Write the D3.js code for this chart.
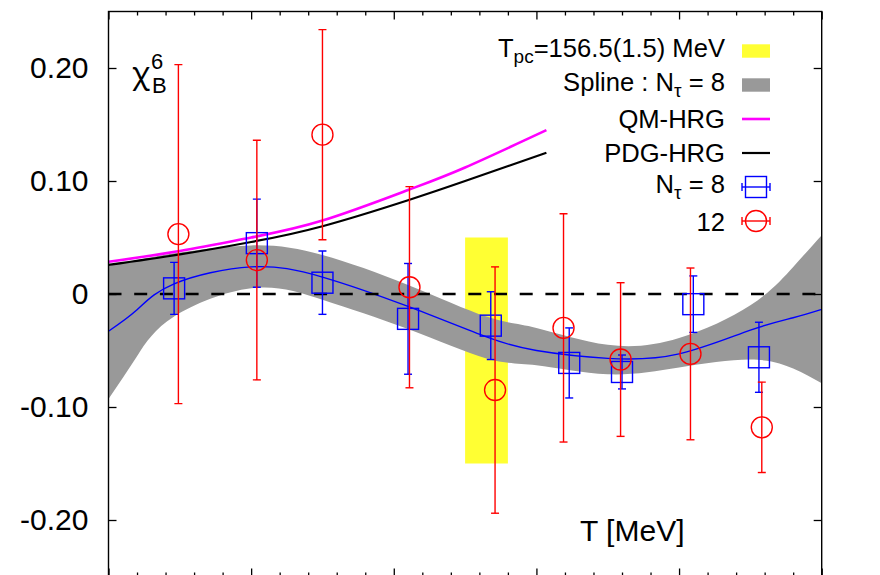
<!DOCTYPE html>
<html>
<head>
<meta charset="utf-8">
<script src="https://cdn.jsdelivr.net/npm/d3@7"></script>
<style>
  body { margin: 0; background: #fff; }
  svg text { font-family: "Liberation Sans", Arial, Helvetica, sans-serif; fill: #000; }
</style>
</head>
<body>
<svg id="chart" width="880" height="575"></svg>
<script>
// ---- data ----
const tpc = 156.5, tpcErr = 1.5;
const tpcBandRange = [-0.15, 0.05];

// N_tau = 8 lattice points
const tau8T   = [134.6, 140.4, 145.0, 151.0, 156.8, 162.3, 166.0, 171.0, 175.6];
const tau8Val = [0.005, 0.045, 0.010, -0.022, -0.028, -0.061, -0.069, -0.009, -0.056];
const tau8Err = [0.023, 0.039, 0.028, 0.049, 0.030, 0.031, 0.015, 0.025, 0.031];

// N_tau = 12 lattice points
const tau12T   = [134.9, 140.4, 145.0, 151.1, 157.1, 161.9, 165.9, 170.8, 175.8];
const tau12Val = [0.053, 0.030, 0.141, 0.006, -0.085, -0.030, -0.058, -0.053, -0.118];
const tau12Err = [0.150, 0.106, 0.093, 0.089, 0.109, 0.101, 0.068, 0.076, 0.040];

// hadron resonance gas curves
const hrgT   = [130, 135, 140, 145, 151, 155, 160.7];
const qmHrg  = [0.0286, 0.038, 0.050, 0.065, 0.092, 0.112, 0.145];
const pdgHrg = [0.0257, 0.035, 0.046, 0.060, 0.083, 0.100, 0.125];

// spline fit to N_tau = 8 with its error band
const splineT   = [130, 132, 134.6, 140, 145, 151, 156.5, 160, 165, 170, 175, 178, 180];
const splineMid = [-0.033, -0.014, 0.009, 0.024, 0.015, -0.011, -0.038, -0.050, -0.057, -0.053, -0.032, -0.021, -0.0136];
const splineLo  = [-0.093, -0.055, -0.020, 0.005, -0.005, -0.031, -0.057, -0.063, -0.071, -0.065, -0.058, -0.066, -0.079];
const splineHi  = [0.025, 0.030, 0.036, 0.043, 0.0345, 0.008, -0.020, -0.030, -0.045, -0.039, -0.010, 0.024, 0.052];

// axes
const xDomain = [130, 180];
const yDomain = [-0.25, 0.25];
const yTicks = [-0.2, -0.1, 0, 0.1, 0.2];
const yTickLabels = ["-0.20", "-0.10", "0", "0.10", "0.20"];
const xMajorTicks = [130, 140, 150, 160, 170, 180];
const xMinorTicks = d3.range(130, 180.01, 2).filter(t => t % 10 !== 0);

// ---- drawing ----
const svg = d3.select("#chart");
const L = 108.5, R = 821.7, T = 11.5, B = 576.5;
const x = d3.scaleLinear().domain(xDomain).range([L, R]);
const y = d3.scaleLinear().domain(yDomain).range([B, T]);

const BLUE = "#0000ff", RED = "#ff0000", GREY = "#999999", YELLOW = "#ffff33", MAGENTA = "#ff00ff";

svg.append("defs").append("clipPath").attr("id", "plotClip")
  .append("rect").attr("x", L).attr("y", T).attr("width", R - L).attr("height", B - T);

const plot = svg.append("g").attr("clip-path", "url(#plotClip)");

// T_pc band
plot.append("rect")
  .attr("x", x(tpc - tpcErr)).attr("width", x(tpc + tpcErr) - x(tpc - tpcErr))
  .attr("y", y(tpcBandRange[1])).attr("height", y(tpcBandRange[0]) - y(tpcBandRange[1]))
  .attr("fill", YELLOW);

// spline band
const splineRows = splineT.map((t, i) => ({ t, lo: splineLo[i], hi: splineHi[i], mid: splineMid[i] }));
plot.append("path").datum(splineRows)
  .attr("d", d3.area().curve(d3.curveNatural)
    .x(d => x(d.t)).y0(d => y(d.lo)).y1(d => y(d.hi)))
  .attr("fill", GREY);

// spline central line
plot.append("path").datum(splineRows)
  .attr("d", d3.line().curve(d3.curveNatural).x(d => x(d.t)).y(d => y(d.mid)))
  .attr("fill", "none").attr("stroke", BLUE).attr("stroke-width", 1.4);

// zero line
plot.append("line")
  .attr("x1", L).attr("x2", R).attr("y1", y(0)).attr("y2", y(0))
  .attr("stroke", "#000").attr("stroke-width", 2.6).attr("stroke-dasharray", "13,12.7");

// HRG curves
const hrgLine = vals => d3.line().curve(d3.curveNatural)
  .x((d, i) => x(hrgT[i])).y(d => y(d))(vals);
plot.append("path").attr("d", hrgLine(qmHrg))
  .attr("fill", "none").attr("stroke", MAGENTA).attr("stroke-width", 2.6);
plot.append("path").attr("d", hrgLine(pdgHrg))
  .attr("fill", "none").attr("stroke", "#000").attr("stroke-width", 2.2);

// error-bar points
function drawPoints(ts, vals, errs, color, shape) {
  const g = plot.append("g").attr("stroke", color).attr("fill", "none").attr("stroke-width", 1.4);
  ts.forEach((t, i) => {
    const cx = x(t), cy = y(vals[i]);
    const top = y(vals[i] + errs[i]), bot = y(vals[i] - errs[i]);
    g.append("line").attr("x1", cx).attr("x2", cx).attr("y1", top).attr("y2", bot);
    g.append("line").attr("x1", cx - 4).attr("x2", cx + 4).attr("y1", top).attr("y2", top);
    g.append("line").attr("x1", cx - 4).attr("x2", cx + 4).attr("y1", bot).attr("y2", bot);
    if (shape === "square") {
      g.append("rect").attr("x", cx - 10.5).attr("y", cy - 10.5).attr("width", 21).attr("height", 21);
    } else {
      g.append("circle").attr("cx", cx).attr("cy", cy).attr("r", 10.5);
    }
  });
}
drawPoints(tau8T, tau8Val, tau8Err, BLUE, "square");
drawPoints(tau12T, tau12Val, tau12Err, RED, "circle");

// frame and ticks
const axisStyle = g => {
  g.select(".domain").remove();
  g.selectAll(".tick line").attr("stroke", "#000").attr("stroke-width", 1.3);
};
svg.append("g").attr("transform", `translate(${L},0)`)
  .call(d3.axisLeft(y).tickValues(yTicks).tickSize(-8).tickPadding(20)
    .tickFormat((d, i) => yTickLabels[i]))
  .call(axisStyle)
  .call(g => g.selectAll(".tick text").attr("font-size", 30).attr("font-family", null).attr("fill", "#000"));
svg.append("g").attr("transform", `translate(${R},0)`)
  .call(d3.axisRight(y).tickValues(yTicks).tickSize(-8).tickFormat(""))
  .call(axisStyle);
[[T, d3.axisTop], [B, d3.axisBottom]].forEach(([pos, axisFn]) => {
  svg.append("g").attr("transform", `translate(0,${pos})`)
    .call(axisFn(x).tickValues(xMajorTicks).tickSize(-8).tickFormat(""))
    .call(axisStyle);
  svg.append("g").attr("transform", `translate(0,${pos})`)
    .call(axisFn(x).tickValues(xMinorTicks).tickSize(-4).tickFormat(""))
    .call(axisStyle);
});
svg.append("rect").attr("x", L).attr("y", T).attr("width", R - L).attr("height", B - T)
  .attr("fill", "none").attr("stroke", "#000").attr("stroke-width", 1.4);

// axis titles
const ylab = svg.append("g");
ylab.append("text").attr("x", 132).attr("y", 84).attr("font-size", 30)
  .style("font-family", "'Noto Sans', 'DejaVu Sans', sans-serif").text("χ");
ylab.append("text").attr("x", 152).attr("y", 93).attr("font-size", 22).text("B");
ylab.append("text").attr("x", 151).attr("y", 69).attr("font-size", 22).text("6");

svg.append("text").attr("x", 580).attr("y", 540.5).attr("font-size", 30).text("T [MeV]");

// legend
const legendTextX = 725, sx0 = 742, sx1 = 770, scx = (sx0 + sx1) / 2;
const legendRowY = [51, 85, 119, 153, 187, 221];
const legendBaseY = [56.7, 90.7, 128, 162, 193.3, 230.5];
const leg = svg.append("g").attr("font-size", 25.6);

function legendText(i, parts) {
  const t = leg.append("text").attr("x", legendTextX).attr("y", legendBaseY[i]).attr("text-anchor", "end");
  let shift = 0;
  parts.forEach(p => {
    const ts = t.append("tspan").text(p.s);
    if (p.sub) { ts.attr("dy", 6 - shift).attr("font-size", 19); shift = 6; }
    else if (shift) { ts.attr("dy", -shift); shift = 0; }
  });
}
legendText(0, [{ s: "T" }, { s: "pc", sub: true }, { s: "=156.5(1.5) MeV" }]);
legendText(1, [{ s: "Spline : N" }, { s: "τ", sub: true }, { s: " = 8" }]);
legendText(2, [{ s: "QM-HRG" }]);
legendText(3, [{ s: "PDG-HRG" }]);
legendText(4, [{ s: "N" }, { s: "τ", sub: true }, { s: " = 8" }]);
legendText(5, [{ s: "12" }]);

leg.append("rect").attr("x", sx0).attr("y", legendRowY[0] - 6.7).attr("width", sx1 - sx0).attr("height", 13.4).attr("fill", YELLOW);
leg.append("rect").attr("x", sx0).attr("y", legendRowY[1] - 6.7).attr("width", sx1 - sx0).attr("height", 13.4).attr("fill", GREY);
leg.append("line").attr("x1", sx0).attr("x2", sx1).attr("y1", legendRowY[2]).attr("y2", legendRowY[2])
  .attr("stroke", MAGENTA).attr("stroke-width", 2.6);
leg.append("line").attr("x1", sx0).attr("x2", sx1).attr("y1", legendRowY[3]).attr("y2", legendRowY[3])
  .attr("stroke", "#000").attr("stroke-width", 2.2);

[[4, BLUE, "square"], [5, RED, "circle"]].forEach(([i, color, shape]) => {
  const cy = legendRowY[i];
  const g = leg.append("g").attr("stroke", color).attr("fill", "none").attr("stroke-width", 1.4);
  g.append("line").attr("x1", sx0).attr("x2", sx1).attr("y1", cy).attr("y2", cy);
  g.append("line").attr("x1", sx0).attr("x2", sx0).attr("y1", cy - 4).attr("y2", cy + 4);
  g.append("line").attr("x1", sx1).attr("x2", sx1).attr("y1", cy - 4).attr("y2", cy + 4);
  if (shape === "square") g.append("rect").attr("x", scx - 10.5).attr("y", cy - 10.5).attr("width", 21).attr("height", 21);
  else g.append("circle").attr("cx", scx).attr("cy", cy).attr("r", 10.5);
});
</script>
</body>
</html>
